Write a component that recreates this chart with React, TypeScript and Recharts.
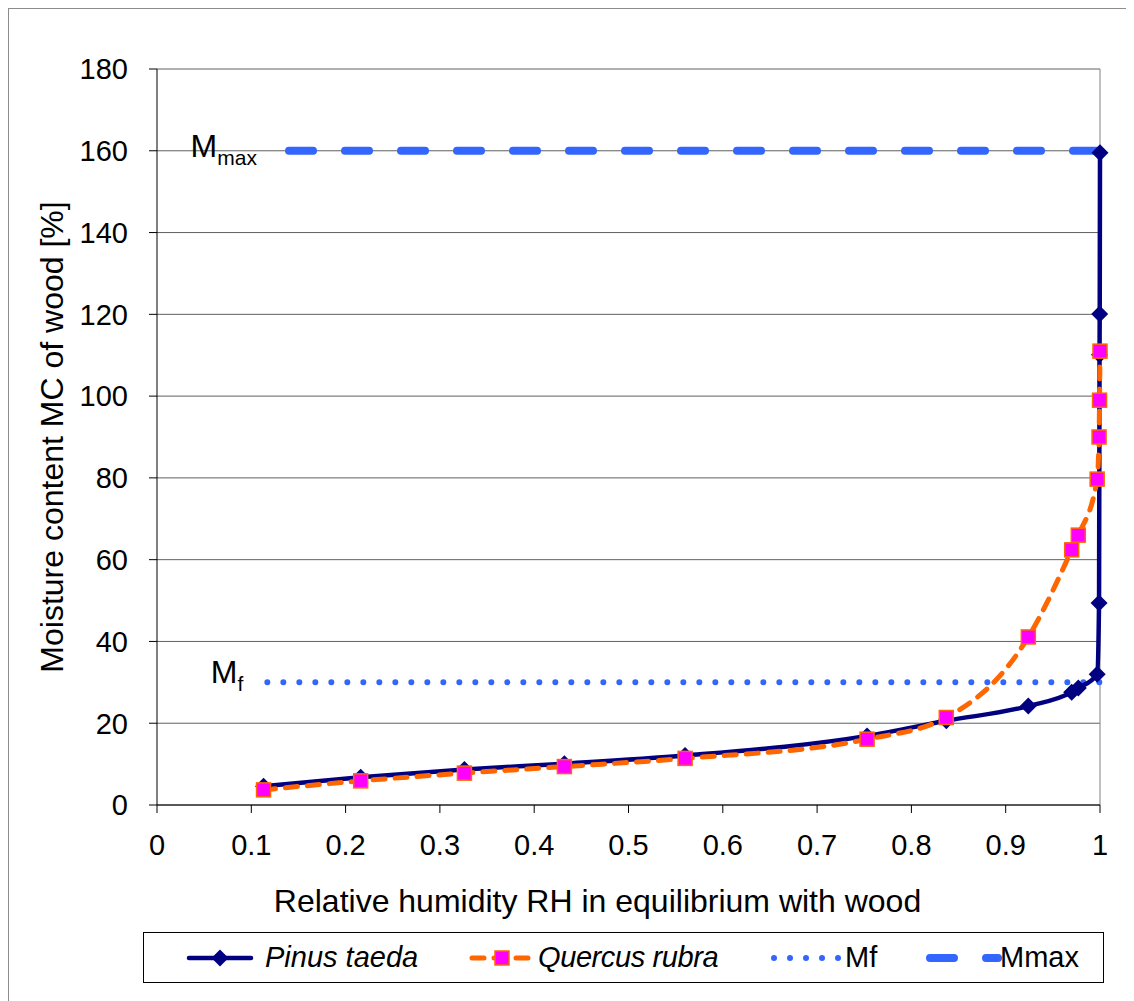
import React from 'react';
import {
  ComposedChart,
  Line,
  XAxis,
  YAxis,
  CartesianGrid,
  Legend,
  ReferenceLine,
  ReferenceDot,
} from 'recharts';

// ─── Data ─────────────────────────────────────────────────────────────────────

const pinusRH = [0.113, 0.216, 0.326, 0.432, 0.56, 0.753, 0.837, 0.924, 0.97, 0.977, 0.997, 0.999, 0.9995, 0.9997, 1.0];
const pinusMC = [4.6, 6.8, 8.7, 10.1, 12.1, 16.9, 20.6, 24.2, 27.6, 28.6, 32.0, 49.4, 110.1, 120.1, 159.5];

const quercusRH = [0.113, 0.216, 0.326, 0.432, 0.56, 0.753, 0.837, 0.924, 0.97, 0.977, 0.997, 0.999, 0.9995, 1.0];
const quercusMC = [3.7, 5.9, 7.8, 9.4, 11.4, 16.1, 21.4, 41.1, 62.4, 66.0, 79.7, 90.0, 99.0, 111.0];

const mfRH = [0.117, 1.0];
const mfMC = [30, 30];

const mmaxRH = [0.14, 1.0];
const mmaxMC = [160, 160];

const xTicks = [0, 0.1, 0.2, 0.3, 0.4, 0.5, 0.6, 0.7, 0.8, 0.9, 1];
const yTicks = [0, 20, 40, 60, 80, 100, 120, 140, 160, 180];

const X_TITLE = 'Relative humidity RH in equilibrium with wood';
const Y_TITLE = 'Moisture content MC of wood [%]';

// ─── Styling ──────────────────────────────────────────────────────────────────

const FONT = '"Liberation Sans", Arial, Helvetica, sans-serif';
const NAVY = '#000080';
const ORANGE = '#FF6600';
const MAGENTA = '#FF00FF';
const BLUE = '#3366FF';

const toPoints = (xs: number[], ys: number[]) => xs.map((rh, i) => ({ rh, mc: ys[i] }));

const pinusData = toPoints(pinusRH, pinusMC);
const quercusData = toPoints(quercusRH, quercusMC);
const mfData = toPoints(mfRH, mfMC);
const mmaxData = toPoints(mmaxRH, mmaxMC);

// ─── Markers ──────────────────────────────────────────────────────────────────

function renderDiamond(props: any) {
  const { cx, cy, index } = props;
  if (cx == null || cy == null) return <g key={`pd-${index}`} />;
  const s = 8.5;
  return (
    <path
      key={`pd-${index}`}
      d={`M${cx},${cy - s}L${cx + s},${cy}L${cx},${cy + s}L${cx - s},${cy}Z`}
      fill={NAVY}
    />
  );
}

function renderSquare(props: any) {
  const { cx, cy, index } = props;
  if (cx == null || cy == null) return <g key={`qs-${index}`} />;
  return (
    <rect
      key={`qs-${index}`}
      x={cx - 7}
      y={cy - 7}
      width={14}
      height={14}
      fill={MAGENTA}
      stroke={ORANGE}
      strokeWidth={1.5}
    />
  );
}

// ─── Labels ───────────────────────────────────────────────────────────────────

const subLabel = (main: string, sub: string, dy: number) => (props: any) => {
  const vb = props.viewBox || {};
  return (
    <text x={vb.x} y={vb.y + dy} fontSize={32} fill="#000" fontFamily={FONT}>
      <tspan>{main}</tspan>
      <tspan fontSize={21} dy={8}>{sub}</tspan>
    </text>
  );
};

const XTitle = (props: any) => {
  const vb = props.viewBox;
  return (
    <text
      x={vb.x + vb.width / 2 - 31}
      y={vb.y + 107}
      textAnchor="middle"
      fontSize={32}
      fill="#000"
      fontFamily={FONT}
    >
      {X_TITLE}
    </text>
  );
};

const YTitle = (props: any) => {
  const vb = props.viewBox;
  const x = vb.x + 43;
  const y = vb.y + vb.height / 2;
  return (
    <text
      x={x}
      y={y}
      transform={`rotate(-90 ${x} ${y})`}
      textAnchor="middle"
      dominantBaseline="central"
      fontSize={32}
      fill="#000"
      fontFamily={FONT}
    >
      {Y_TITLE}
    </text>
  );
};

// ─── Legend ───────────────────────────────────────────────────────────────────

function LegendBox() {
  const text: React.CSSProperties = {
    position: 'absolute',
    top: 0,
    height: 49,
    lineHeight: '49px',
    fontSize: 29,
    fontFamily: FONT,
    color: '#000',
    whiteSpace: 'nowrap',
  };
  const icon: React.CSSProperties = { position: 'absolute', top: 0 };
  return (
    <div
      style={{
        position: 'relative',
        boxSizing: 'border-box',
        width: 961,
        height: 51,
        border: '1px solid #000',
        background: '#fff',
      }}
    >
      {/* Pinus taeda */}
      <svg style={{ ...icon, left: 42 }} width={68} height={49}>
        <line x1={3} y1={25} x2={65} y2={25} stroke={NAVY} strokeWidth={4.5} strokeLinecap="round" />
        <path d="M34,16.5L42.5,25L34,33.5L25.5,25Z" fill={NAVY} />
      </svg>
      <span style={{ ...text, left: 121, fontStyle: 'italic' }}>Pinus taeda</span>

      {/* Quercus rubra */}
      <svg style={{ ...icon, left: 324 }} width={68} height={49}>
        <line x1={4} y1={25} x2={64} y2={25} stroke={ORANGE} strokeWidth={5} strokeDasharray="12 10" strokeLinecap="round" />
        <rect x={27} y={18} width={14} height={14} fill={MAGENTA} stroke={ORANGE} strokeWidth={1.5} />
      </svg>
      <span style={{ ...text, left: 394, fontStyle: 'italic', letterSpacing: -0.4 }}>Quercus rubra</span>

      {/* Mf */}
      <svg style={{ ...icon, left: 626 }} width={76} height={49}>
        <line x1={4} y1={25} x2={72} y2={25} stroke={BLUE} strokeWidth={6} strokeDasharray="0 16" strokeLinecap="round" />
      </svg>
      <span style={{ ...text, left: 701 }}>Mf</span>

      {/* Mmax */}
      <svg style={{ ...icon, left: 780 }} width={78} height={49}>
        <line x1={6} y1={25} x2={74} y2={25} stroke={BLUE} strokeWidth={8} strokeDasharray="24 32" strokeLinecap="round" />
      </svg>
      <span style={{ ...text, left: 856 }}>Mmax</span>
    </div>
  );
}

// ─── App ──────────────────────────────────────────────────────────────────────

export default function App() {
  return (
    <div
      style={{
        width: 1125,
        height: 992,
        borderLeft: '1px solid #8c8c8c',
        borderTop: '1px solid #8c8c8c',
        background: '#fff',
        fontFamily: FONT,
      }}
    >
      <ComposedChart
        width={1125}
        height={992}
        margin={{ top: 60, right: 34, left: 0, bottom: 18 }}
        style={{ fontFamily: FONT }}
      >
        <CartesianGrid vertical={false} stroke="#606060" strokeWidth={1} />

        <XAxis
          type="number"
          dataKey="rh"
          domain={[0, 1]}
          ticks={xTicks}
          interval={0}
          allowDuplicatedCategory={false}
          tickFormatter={(v: number) => (v === 0 || v === 1 ? String(v) : v.toFixed(1))}
          tick={{ fontSize: 29, fill: '#000', fontFamily: FONT }}
          tickSize={8}
          tickMargin={21}
          axisLine={{ stroke: '#000', strokeWidth: 1 }}
          tickLine={{ stroke: '#000', strokeWidth: 1 }}
          height={127}
          label={{ content: XTitle }}
        />

        <YAxis
          type="number"
          dataKey="mc"
          domain={[0, 180]}
          ticks={yTicks}
          interval={0}
          tick={{ fontSize: 29, fill: '#000', fontFamily: FONT }}
          tickSize={8}
          tickMargin={21}
          axisLine={{ stroke: '#000', strokeWidth: 1 }}
          tickLine={{ stroke: '#000', strokeWidth: 1 }}
          width={148}
          label={{ content: YTitle }}
        />

        <Legend
          verticalAlign="bottom"
          align="left"
          content={() => <LegendBox />}
          wrapperStyle={{ left: 134, width: 961, height: 51 }}
        />

        {/* Plot-area right border */}
        <ReferenceLine x={1} stroke="#808080" strokeWidth={1} />

        {/* Labels next to the reference lines */}
        <ReferenceDot x={0.0356} y={160} r={0} fill="none" stroke="none" label={{ content: subLabel('M', 'max', 6) }} />
        <ReferenceDot x={0.057} y={30} r={0} fill="none" stroke="none" label={{ content: subLabel('M', 'f', 1) }} />

        <Line
          data={mfData}
          dataKey="mc"
          name="Mf"
          type="linear"
          stroke={BLUE}
          strokeWidth={6}
          strokeDasharray="0 16"
          strokeLinecap="round"
          dot={false}
          activeDot={false}
          isAnimationActive={false}
        />
        <Line
          data={mmaxData}
          dataKey="mc"
          name="Mmax"
          type="linear"
          stroke={BLUE}
          strokeWidth={8}
          strokeDasharray="24 32"
          strokeLinecap="round"
          dot={false}
          activeDot={false}
          isAnimationActive={false}
        />
        <Line
          data={pinusData}
          dataKey="mc"
          name="Pinus taeda"
          type="monotone"
          stroke={NAVY}
          strokeWidth={4.5}
          dot={renderDiamond}
          activeDot={false}
          isAnimationActive={false}
        />
        <Line
          data={quercusData}
          dataKey="mc"
          name="Quercus rubra"
          type="monotone"
          stroke={ORANGE}
          strokeWidth={5}
          strokeDasharray="12 10"
          strokeLinecap="round"
          dot={renderSquare}
          activeDot={false}
          isAnimationActive={false}
        />
      </ComposedChart>
    </div>
  );
}
